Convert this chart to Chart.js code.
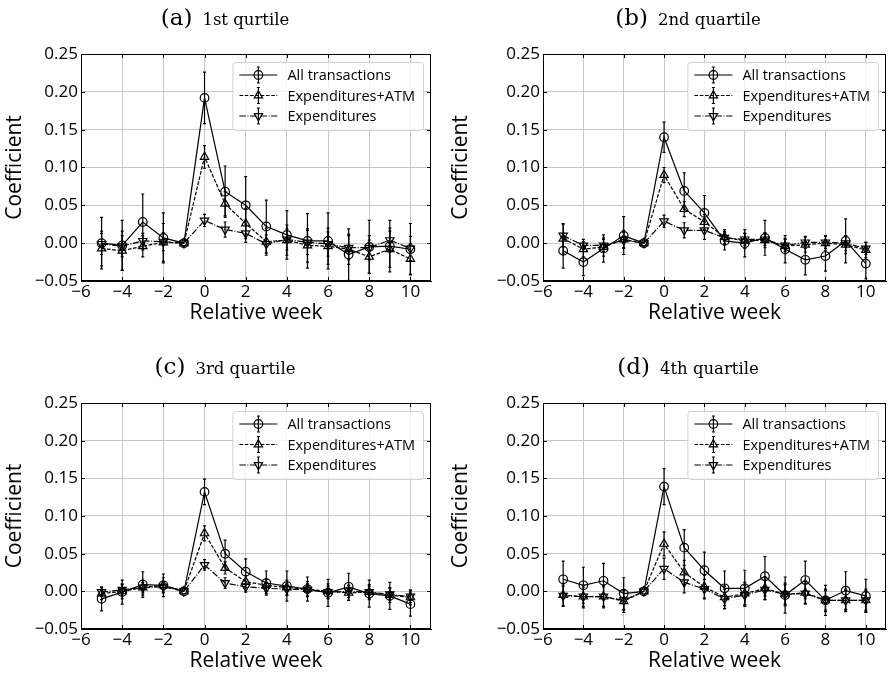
<!DOCTYPE html>
<html>
<head>
<meta charset="utf-8">
<script src="https://cdn.jsdelivr.net/npm/chart.js@4.4.0/dist/chart.umd.min.js"></script>
<style>
  html, body { margin: 0; padding: 0; background: #fff; }
  #wrap { position: relative; width: 892px; height: 677px; overflow: hidden; }
  canvas { position: absolute; }
</style>
</head>
<body>
<div id="wrap">
  <canvas id="panelA" width="446" height="338" style="left:0;top:0"></canvas>
  <canvas id="panelB" width="446" height="338" style="left:446px;top:0"></canvas>
  <canvas id="panelC" width="446" height="339" style="left:0;top:338px"></canvas>
  <canvas id="panelD" width="446" height="339" style="left:446px;top:338px"></canvas>
</div>
<script>
// Semanas relativas al evento (la semana -1 es la referencia)
const weeks = [-5, -4, -3, -2, -1, 0, 1, 2, 3, 4, 5, 6, 7, 8, 9, 10];
const seriesLabels = ['All transactions', 'Expenditures+ATM', 'Expenditures'];
const xTickValues = [-6, -4, -2, 0, 2, 4, 6, 8, 10];
const yTickValues = [-0.05, 0, 0.05, 0.10, 0.15, 0.20, 0.25];

// (a) 1st qurtile
const allA    = [0.000, -0.003, 0.028, 0.007, 0, 0.192, 0.068, 0.050, 0.022, 0.011, 0.003, 0.003, -0.015, -0.005, -0.004, -0.008];
const allErrA = [0.034, 0.033, 0.037, 0.033, 0, 0.034, 0.034, 0.038, 0.035, 0.032, 0.036, 0.037, 0.034, 0.035, 0.034, 0.034];
const atmA    = [-0.007, -0.010, -0.004, 0.001, 0, 0.114, 0.052, 0.026, 0.002, 0.004, -0.003, -0.004, -0.008, -0.018, -0.008, -0.021];
const atmErrA = [0.023, 0.026, 0.014, 0.025, 0, 0.015, 0.016, 0.020, 0.018, 0.020, 0.022, 0.024, 0.020, 0.022, 0.024, 0.020];
const expA    = [-0.001, -0.004, 0.003, 0.002, 0, 0.030, 0.018, 0.013, -0.001, 0.005, 0.001, -0.001, -0.006, -0.006, 0.004, -0.007];
const expErrA = [0.014, 0.014, 0.010, 0.012, 0, 0.008, 0.010, 0.012, 0.012, 0.014, 0.016, 0.016, 0.016, 0.016, 0.016, 0.016];

// (b) 2nd quartile
const allB    = [-0.010, -0.025, -0.007, 0.010, 0, 0.140, 0.069, 0.040, 0.003, 0.000, 0.007, -0.008, -0.022, -0.017, 0.003, -0.027];
const allErrB = [0.023, 0.018, 0.018, 0.025, 0, 0.020, 0.024, 0.023, 0.012, 0.018, 0.023, 0.018, 0.020, 0.020, 0.029, 0.020];
const atmB    = [0.006, -0.008, -0.005, 0.005, 0, 0.090, 0.045, 0.028, 0.008, 0.003, 0.004, -0.004, -0.002, 0.000, -0.002, -0.009];
const atmErrB = [0.020, 0.010, 0.012, 0.012, 0, 0.010, 0.010, 0.010, 0.010, 0.010, 0.010, 0.010, 0.010, 0.010, 0.012, 0.010];
const expB    = [0.010, -0.003, -0.003, 0.004, 0, 0.029, 0.017, 0.017, 0.007, 0.005, 0.005, -0.003, 0.001, 0.001, 0.000, -0.007];
const expErrB = [0.015, 0.008, 0.008, 0.010, 0, 0.008, 0.010, 0.012, 0.008, 0.008, 0.008, 0.008, 0.008, 0.008, 0.010, 0.008];

// (c) 3rd quartile
const allC    = [-0.010, -0.001, 0.009, 0.008, 0, 0.132, 0.050, 0.026, 0.011, 0.007, 0.003, -0.002, 0.006, -0.003, -0.006, -0.017];
const allErrC = [0.016, 0.016, 0.017, 0.015, 0, 0.017, 0.018, 0.017, 0.016, 0.020, 0.016, 0.018, 0.018, 0.018, 0.018, 0.016];
const atmC    = [-0.003, 0.000, 0.005, 0.008, 0, 0.077, 0.031, 0.013, 0.008, 0.005, 0.003, 0.000, -0.002, -0.001, -0.005, -0.008];
const atmErrC = [0.008, 0.010, 0.010, 0.010, 0, 0.010, 0.008, 0.008, 0.008, 0.010, 0.010, 0.010, 0.010, 0.010, 0.010, 0.010];
const expC    = [-0.001, 0.002, 0.005, 0.006, 0, 0.035, 0.011, 0.006, 0.004, 0.003, 0.002, -0.001, 0.000, -0.001, -0.004, -0.007];
const expErrC = [0.006, 0.007, 0.007, 0.007, 0, 0.007, 0.007, 0.007, 0.007, 0.008, 0.008, 0.008, 0.008, 0.008, 0.008, 0.008];

// (d) 4th quartile
const allD    = [0.016, 0.008, 0.014, -0.003, 0, 0.139, 0.058, 0.028, 0.004, 0.004, 0.020, -0.005, 0.015, -0.012, 0.001, -0.006];
const allErrD = [0.024, 0.024, 0.023, 0.021, 0, 0.024, 0.024, 0.024, 0.023, 0.024, 0.026, 0.024, 0.025, 0.020, 0.025, 0.022];
const atmD    = [-0.005, -0.007, -0.007, -0.013, 0, 0.063, 0.025, 0.006, -0.008, -0.003, 0.004, -0.004, -0.002, -0.012, -0.012, -0.012];
const atmErrD = [0.015, 0.015, 0.015, 0.015, 0, 0.016, 0.016, 0.015, 0.015, 0.015, 0.015, 0.015, 0.015, 0.015, 0.015, 0.015];
const expD    = [-0.006, -0.007, -0.007, -0.012, 0, 0.030, 0.012, 0.003, -0.010, -0.005, 0.002, -0.004, -0.003, -0.012, -0.012, -0.012];
const expErrD = [0.013, 0.013, 0.013, 0.013, 0, 0.014, 0.014, 0.013, 0.013, 0.013, 0.013, 0.013, 0.013, 0.013, 0.013, 0.013];

const SANS = '"Open Sans", "DejaVu Sans", sans-serif';
const SERIF = '"DejaVu Serif", serif';
const LINE_W = 1.2;

// Estilo de cada serie: marcador, rotación y patrón de línea
const seriesStyles = [
    { pointStyle: 'circle', rotation: 0, radius: 4.3, dash: [] },
    { pointStyle: 'triangle', rotation: 0, radius: 4.8, dash: [3.7, 1.6] },
    { pointStyle: 'triangle', rotation: 180, radius: 4.8, dash: [6.4, 1.6, 1, 1.6] }
];

const fmtY = v => (v < -1e-9 ? '\u2212' + Math.abs(v).toFixed(2) : Math.abs(v).toFixed(2));
const fmtX = v => (v < 0 ? '\u2212' + Math.abs(v) : String(v));

function drawMarker(ctx, style, x, y) {
    ctx.beginPath();
    if (style.pointStyle === 'circle') {
        ctx.arc(x, y, style.radius, 0, Math.PI * 2);
    } else {
        let rad = style.rotation * Math.PI / 180;
        for (let k = 0; k < 3; k++) {
            const px = x + Math.sin(rad) * style.radius;
            const py = y - Math.cos(rad) * style.radius;
            if (k === 0) ctx.moveTo(px, py); else ctx.lineTo(px, py);
            rad += 2 * Math.PI / 3;
        }
        ctx.closePath();
    }
    ctx.stroke();
}

function drawErrBar(ctx, x, top, bot) {
    ctx.beginPath();
    ctx.moveTo(x, top); ctx.lineTo(x, bot);
    ctx.moveTo(x - 1.5, top); ctx.lineTo(x + 1.5, top);
    ctx.moveTo(x - 1.5, bot); ctx.lineTo(x + 1.5, bot);
    ctx.stroke();
}

// Barras de error bajo los marcadores
const errorBarPlugin = {
    id: 'errorBars',
    beforeDatasetsDraw(chart) {
        const ctx = chart.ctx;
        const yScale = chart.scales.y;
        chart.data.datasets.forEach((ds, i) => {
            const meta = chart.getDatasetMeta(i);
            ctx.save();
            ctx.strokeStyle = '#000';
            ctx.lineWidth = LINE_W;
            meta.data.forEach((pt, j) => {
                const e = ds.errors[j];
                if (!e) return;
                const v = ds.data[j].y;
                drawErrBar(ctx, pt.x, yScale.getPixelForValue(v + e), yScale.getPixelForValue(v - e));
            });
            ctx.restore();
        });
    }
};

// Marco negro y marcas hacia dentro en los cuatro lados
const framePlugin = {
    id: 'frame',
    afterDatasetsDraw(chart) {
        const { ctx, chartArea: a, scales } = chart;
        ctx.save();
        ctx.strokeStyle = '#000';
        ctx.lineWidth = 1;
        ctx.strokeRect(a.left + 0.5, a.top + 0.5, a.right - a.left - 1, a.bottom - a.top - 1);
        ctx.beginPath();
        xTickValues.forEach(v => {
            const px = Math.round(scales.x.getPixelForValue(v)) + 0.5;
            ctx.moveTo(px, a.bottom); ctx.lineTo(px, a.bottom - 4);
            ctx.moveTo(px, a.top); ctx.lineTo(px, a.top + 4);
        });
        yTickValues.forEach(v => {
            const py = Math.round(scales.y.getPixelForValue(v)) + 0.5;
            ctx.moveTo(a.left, py); ctx.lineTo(a.left + 4, py);
            ctx.moveTo(a.right, py); ctx.lineTo(a.right - 4, py);
        });
        ctx.stroke();
        ctx.restore();
    }
};

// Leyenda dentro del área del gráfico (esquina superior derecha)
const boxLegendPlugin = {
    id: 'boxLegend',
    afterDraw(chart) {
        const { ctx, chartArea: a } = chart;
        ctx.save();
        ctx.font = '14.5px ' + SANS;
        const labels = chart.data.datasets.map(d => d.label);
        const tw = Math.max(...labels.map(t => ctx.measureText(t).width));
        const w = 55 + tw + 8, h = 68;
        const x0 = a.right - 8 - w, y0 = a.top + 8;
        ctx.beginPath();
        ctx.roundRect(x0 + 0.5, y0 + 0.5, w, h, 3);
        ctx.fillStyle = 'rgba(255,255,255,0.8)';
        ctx.fill();
        ctx.strokeStyle = '#d0d0d0';
        ctx.lineWidth = 1;
        ctx.stroke();
        labels.forEach((label, i) => {
            const st = seriesStyles[i];
            const cy = y0 + 13 + i * 20.5;
            ctx.strokeStyle = '#000';
            ctx.lineWidth = LINE_W;
            ctx.setLineDash(st.dash);
            ctx.beginPath();
            ctx.moveTo(x0 + 7, cy); ctx.lineTo(x0 + 45, cy);
            ctx.stroke();
            ctx.setLineDash([]);
            drawErrBar(ctx, x0 + 26, cy - 8, cy + 8);
            drawMarker(ctx, st, x0 + 26, cy);
            ctx.fillStyle = '#000';
            ctx.textBaseline = 'middle';
            ctx.textAlign = 'left';
            ctx.fillText(label, x0 + 55, cy + 1);
        });
        ctx.restore();
    }
};

// Título del panel: etiqueta grande + nombre en tamaño menor
const panelTitlePlugin = {
    id: 'panelTitle',
    afterDraw(chart, args, opts) {
        const ctx = chart.ctx;
        ctx.save();
        ctx.fillStyle = '#000';
        ctx.textBaseline = 'alphabetic';
        ctx.textAlign = 'left';
        ctx.font = '23px ' + SERIF;
        const tagW = ctx.measureText(opts.tag).width;
        ctx.font = '16.5px ' + SERIF;
        const nameW = ctx.measureText(opts.name).width;
        const gap = 10;
        const start = opts.x - (tagW + gap + nameW) / 2;
        ctx.font = '23px ' + SERIF;
        ctx.fillText(opts.tag, start, opts.y);
        ctx.font = '16.5px ' + SERIF;
        ctx.fillText(opts.name, start + tagW + gap, opts.y);
        ctx.restore();
    }
};

const panels = [
    { id: 'panelA', tag: '(a)', name: '1st qurtile', values: [allA, atmA, expA], errors: [allErrA, atmErrA, expErrA],
      yAxisWidth: 81, padTop: 54, padRight: 15, xAxisHeight: 57, xTitlePad: 12, titleX: 225, titleY: 25 },
    { id: 'panelB', tag: '(b)', name: '2nd quartile', values: [allB, atmB, expB], errors: [allErrB, atmErrB, expErrB],
      yAxisWidth: 97, padTop: 54, padRight: 1, xAxisHeight: 57, xTitlePad: 12, titleX: 242, titleY: 25 },
    { id: 'panelC', tag: '(c)', name: '3rd quartile', values: [allC, atmC, expC], errors: [allErrC, atmErrC, expErrC],
      yAxisWidth: 81, padTop: 65, padRight: 15, xAxisHeight: 48, xTitlePad: 3, titleX: 225, titleY: 36 },
    { id: 'panelD', tag: '(d)', name: '4th quartile', values: [allD, atmD, expD], errors: [allErrD, atmErrD, expErrD],
      yAxisWidth: 97, padTop: 65, padRight: 1, xAxisHeight: 48, xTitlePad: 3, titleX: 242, titleY: 36 }
];

panels.forEach(p => {
    const datasets = p.values.map((vals, i) => {
        const st = seriesStyles[i];
        return {
            label: seriesLabels[i],
            data: weeks.map((w, j) => ({ x: w, y: vals[j] })),
            errors: p.errors[i],
            borderColor: '#000',
            borderWidth: LINE_W,
            borderDash: st.dash,
            tension: 0,
            fill: false,
            pointStyle: st.pointStyle,
            pointRotation: st.rotation,
            pointRadius: st.radius,
            pointBorderColor: '#000',
            pointBackgroundColor: 'rgba(0,0,0,0)',
            pointBorderWidth: LINE_W
        };
    });

    new Chart(document.getElementById(p.id), {
        type: 'line',
        data: { datasets: datasets },
        plugins: [errorBarPlugin, framePlugin, boxLegendPlugin, panelTitlePlugin],
        options: {
            responsive: false,
            animation: false,
            devicePixelRatio: 1,
            layout: { padding: { top: p.padTop, right: p.padRight, left: 0, bottom: 0 } },
            plugins: {
                legend: { display: false },
                tooltip: { enabled: false },
                panelTitle: { tag: p.tag, name: p.name, x: p.titleX, y: p.titleY }
            },
            scales: {
                x: {
                    type: 'linear',
                    min: -6,
                    max: 11,
                    afterBuildTicks: s => { s.ticks = xTickValues.map(v => ({ value: v })); },
                    afterFit: s => { s.height = p.xAxisHeight; },
                    grid: { color: '#c8c8c8', lineWidth: 1, drawTicks: false },
                    border: { display: true, color: '#000', width: 1 },
                    ticks: {
                        color: '#000',
                        padding: 1,
                        maxRotation: 0,
                        font: { family: SANS, size: 17 },
                        callback: v => fmtX(v)
                    },
                    title: {
                        display: true,
                        text: 'Relative week',
                        color: '#000',
                        font: { family: SANS, size: 21 },
                        padding: { top: 0, bottom: p.xTitlePad }
                    }
                },
                y: {
                    type: 'linear',
                    min: -0.05,
                    max: 0.25,
                    afterBuildTicks: s => { s.ticks = yTickValues.map(v => ({ value: v })); },
                    afterFit: s => { s.width = p.yAxisWidth; },
                    grid: { color: '#c8c8c8', lineWidth: 1, drawTicks: false },
                    border: { display: true, color: '#000', width: 1 },
                    ticks: {
                        color: '#000',
                        padding: 3,
                        font: { family: SANS, size: 17 },
                        callback: v => fmtY(v)
                    },
                    title: {
                        display: true,
                        text: 'Coefficient',
                        color: '#000',
                        font: { family: SANS, size: 21 },
                        padding: { top: 2, bottom: 0 }
                    }
                }
            }
        }
    });
});
</script>
</body>
</html>
